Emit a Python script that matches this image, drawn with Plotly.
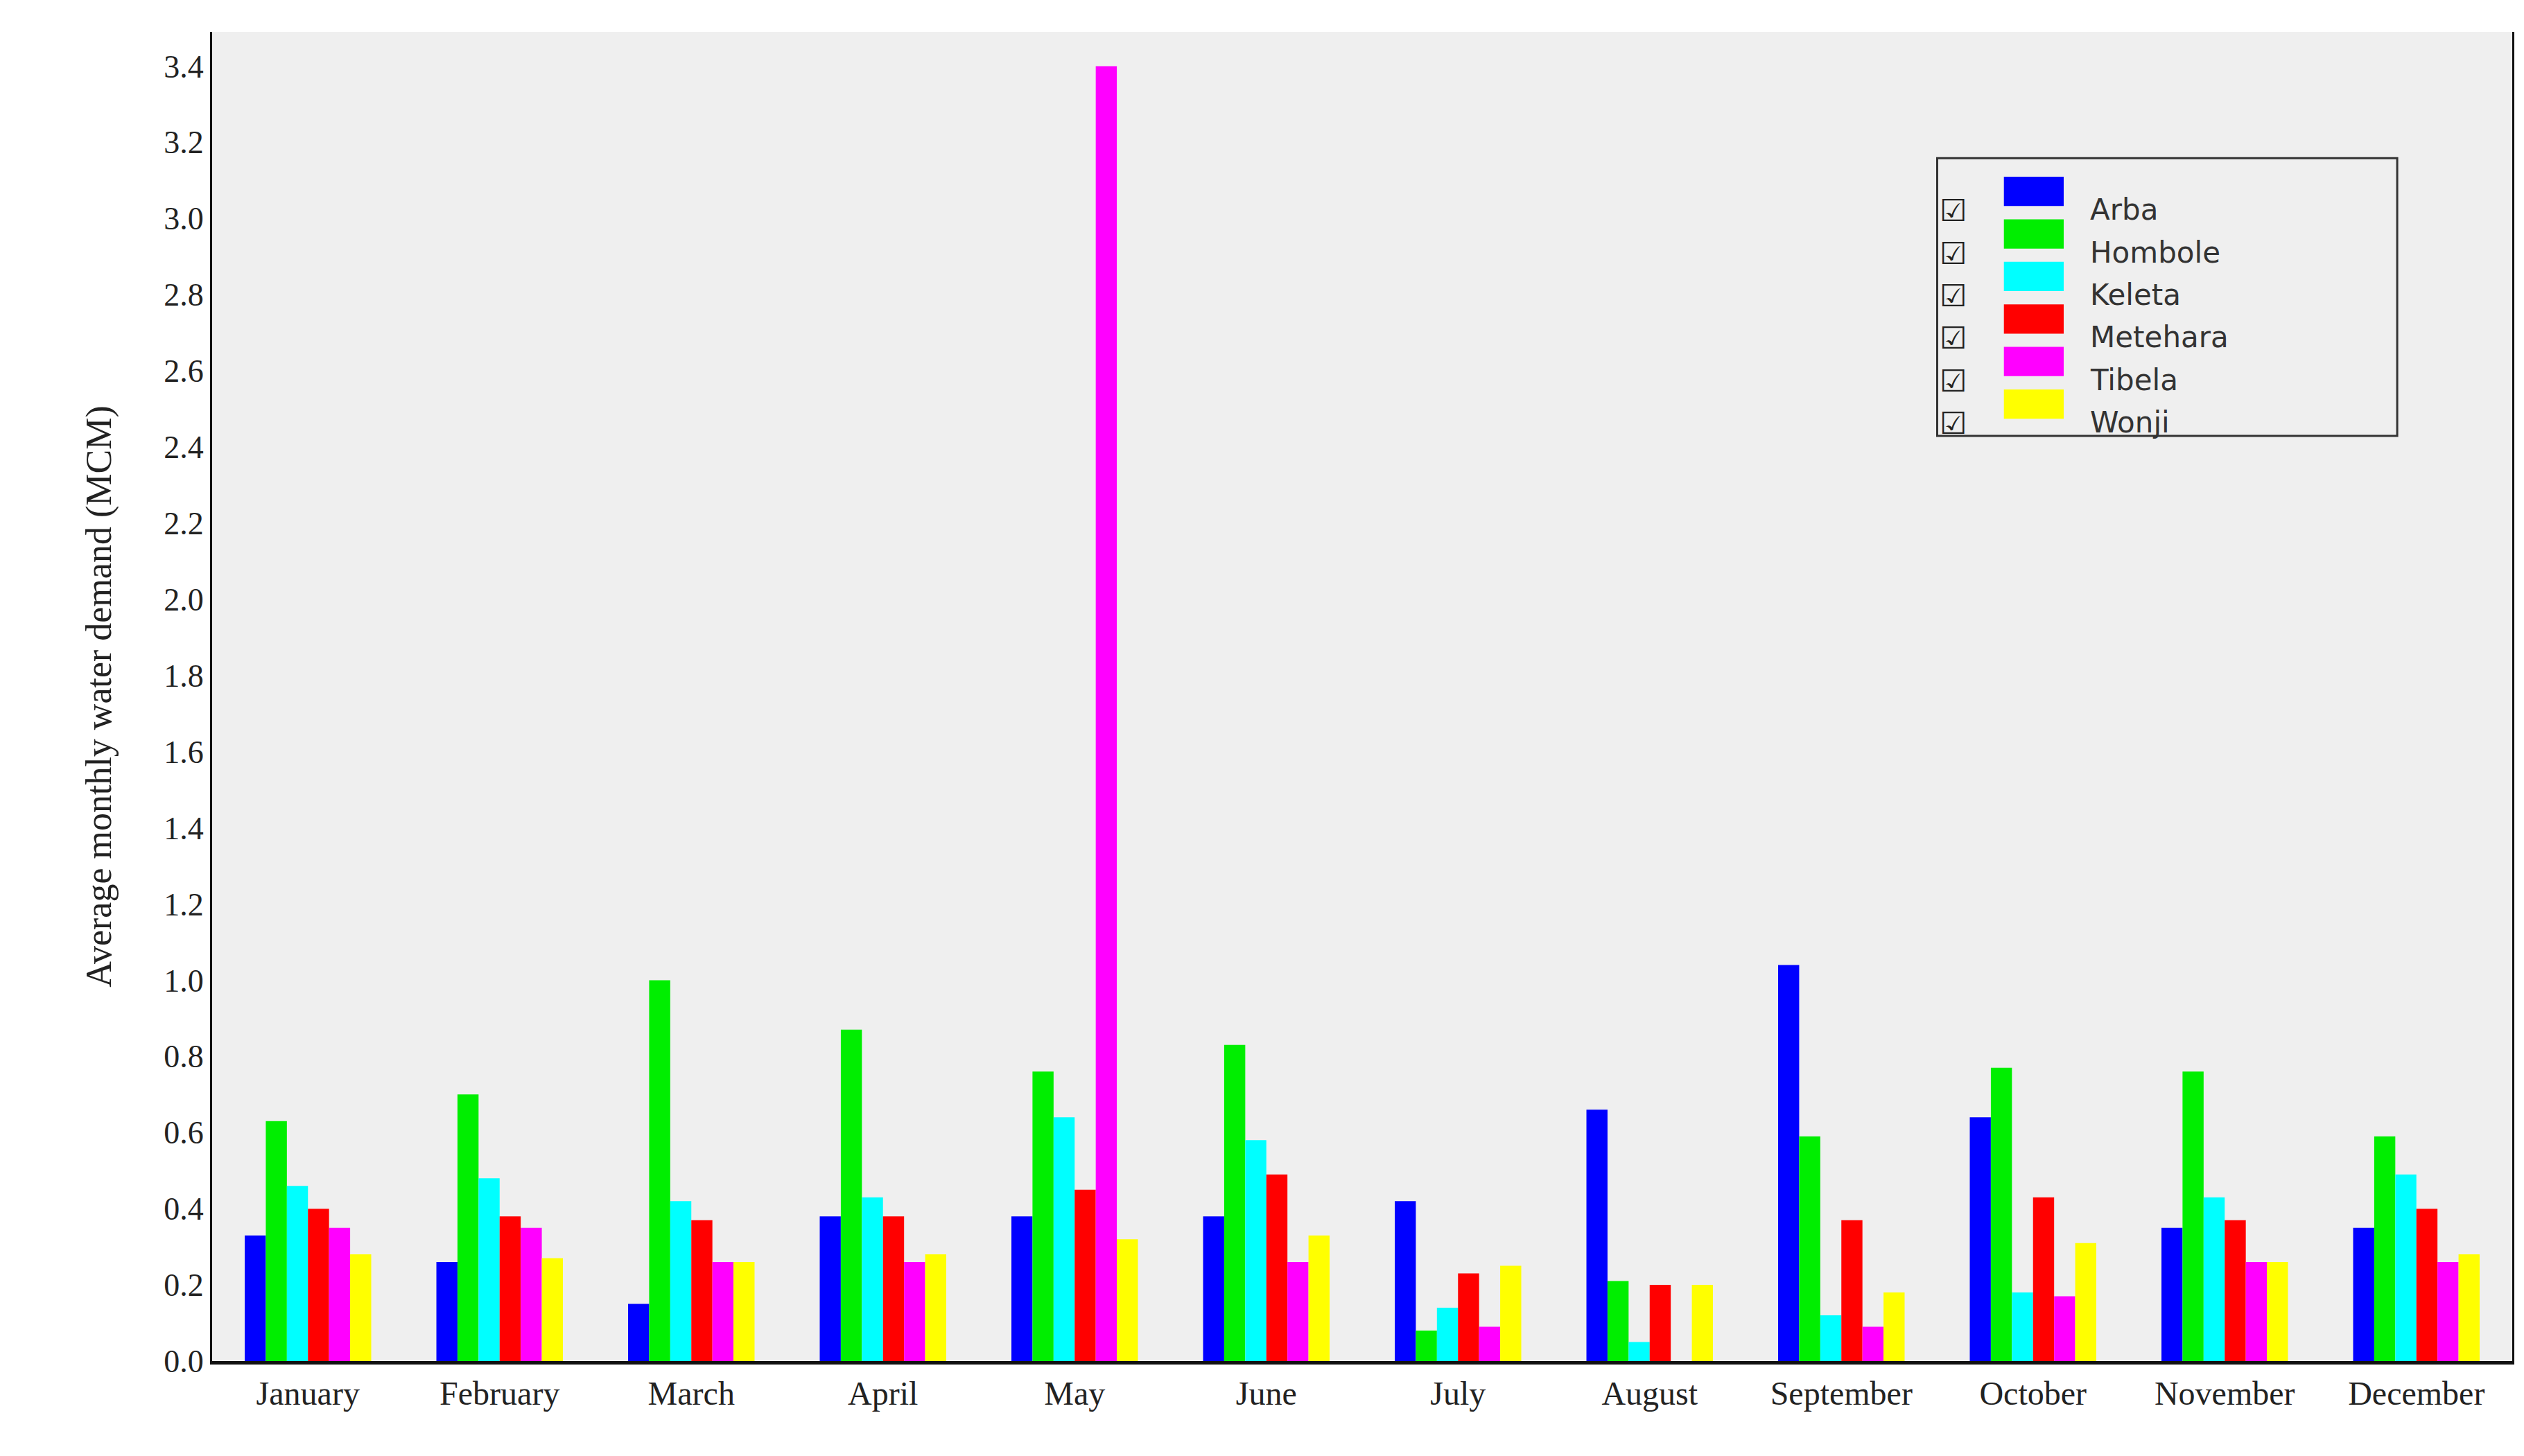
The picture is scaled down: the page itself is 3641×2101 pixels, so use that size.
import plotly.graph_objects as go

months = ["January", "February", "March", "April", "May", "June", "July",
          "August", "September", "October", "November", "December"]

arba = [0.33, 0.26, 0.15, 0.38, 0.38, 0.38, 0.42, 0.66, 1.04, 0.64, 0.35, 0.35]
hombole = [0.63, 0.70, 1.00, 0.87, 0.76, 0.83, 0.08, 0.21, 0.59, 0.77, 0.76, 0.59]
keleta = [0.46, 0.48, 0.42, 0.43, 0.64, 0.58, 0.14, 0.05, 0.12, 0.18, 0.43, 0.49]
metehara = [0.40, 0.38, 0.37, 0.38, 0.45, 0.49, 0.23, 0.20, 0.37, 0.43, 0.37, 0.40]
tibela = [0.35, 0.35, 0.26, 0.26, 3.40, 0.26, 0.09, 0.00, 0.09, 0.17, 0.26, 0.26]
wonji = [0.28, 0.27, 0.26, 0.28, 0.32, 0.33, 0.25, 0.20, 0.18, 0.31, 0.26, 0.28]

series = [
    ("Arba", arba, "#0000ff"),
    ("Hombole", hombole, "#00ee00"),
    ("Keleta", keleta, "#00ffff"),
    ("Metehara", metehara, "#ff0000"),
    ("Tibela", tibela, "#ff00ff"),
    ("Wonji", wonji, "#ffff00"),
]

yticks = [0.0, 0.2, 0.4, 0.6, 0.8, 1.0, 1.2, 1.4, 1.6, 1.8, 2.0, 2.2, 2.4, 2.6, 2.8, 3.0, 3.2, 3.4]

fig = go.Figure()
for name, vals, color in series:
    fig.add_trace(go.Bar(x=months, y=vals, name=name,
                         marker=dict(color=color, line=dict(width=0))))

# hand-drawn legend with checkboxes and large swatches, like the original
shapes = [dict(type="rect", xref="paper", yref="paper", x0=0.75, x1=0.95,
               y0=0.696, y1=0.905, line=dict(color="#333", width=3),
               fillcolor="#efefef", layer="above")]
annotations = []
row_y = [0.88, 0.848, 0.816, 0.784, 0.752, 0.72]
for (name, _, color), yy in zip(series, row_y):
    shapes.append(dict(type="rect", xref="paper", yref="paper",
                       x0=0.779, x1=0.805, y0=yy - 0.011, y1=yy + 0.011,
                       line=dict(width=0), fillcolor=color, layer="above"))
    annotations.append(dict(xref="paper", yref="paper", x=0.7635, y=yy,
                            text="\u2611", showarrow=False,
                            font=dict(family="DejaVu Sans", size=44, color="#222")))
    annotations.append(dict(xref="paper", yref="paper", x=0.816, y=yy,
                            xanchor="left", text=name, showarrow=False,
                            font=dict(family="DejaVu Sans", size=42, color="#333")))

fig.update_layout(
    width=3641, height=2101,
    paper_bgcolor="white", plot_bgcolor="#efefef",
    margin=dict(l=298, r=25, t=38, b=145),
    barmode="group", bargap=0.34, bargroupgap=0.0,
    font=dict(family="Liberation Serif", size=48, color="#222"),
    showlegend=False, shapes=shapes, annotations=annotations,
)
fig.update_xaxes(showline=True, linecolor="#111", linewidth=5, mirror=False,
                 ticks="", tickfont=dict(size=48), showgrid=False)
fig.update_yaxes(range=[0, 3.49], tickvals=yticks,
                 ticktext=[f"{v:.1f}" for v in yticks],
                 showgrid=False, zeroline=False, ticks="",
                 showline=True, linecolor="#111", linewidth=3, mirror=True,
                 title=dict(text="Average monthly water demand (MCM)",
                            font=dict(size=52), standoff=60),
                 tickfont=dict(size=46))
fig.write_html("out.html")
